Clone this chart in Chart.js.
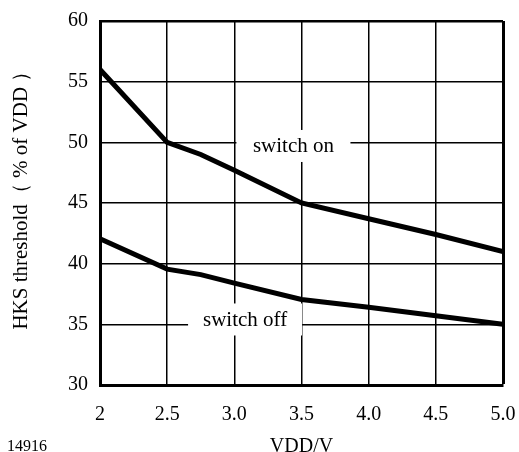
<!DOCTYPE html>
<html>
<head>
<meta charset="utf-8">
<script src="https://cdn.jsdelivr.net/npm/chart.js@4/dist/chart.umd.min.js"></script>
<style>
  html, body { margin: 0; padding: 0; background: #fff; }
  #wrap { position: relative; width: 519px; height: 452px; }
</style>
</head>
<body>
<div id="wrap"><canvas id="hks-chart"></canvas></div>
<script>
const vdd = [2, 2.5, 2.75, 3.0, 3.5, 4.0, 4.5, 5.0];
const switchOn = [56, 50, 49, 47.7, 45, 43.7, 42.4, 41];
const switchOff = [42.05, 39.55, 39.1, 38.4, 37.05, 36.4, 35.7, 35.0];
const xTickLabels = ["2", "2.5", "3.0", "3.5", "4.0", "4.5", "5.0"];
const yTickLabels = ["30", "35", "40", "45", "50", "55", "60"];
const curveLabels = ["switch on", "switch off"];

// where the curve names sit, in data units
const curveLabelAt = [
  { x: 3.44, y: 49.7 },
  { x: 3.08, y: 35.4 },
];

const Config = {
  ink: "#000",
  font: `"Liberation Serif", "Times New Roman", serif`,
  tickSize: 20,
  labelSize: 21,
};

Chart.defaults.color = Config.ink;
Chart.defaults.font.family = Config.font;
Chart.defaults.font.size = Config.tickSize;

const toPoints = (ys) => vdd.map((x, i) => ({ x, y: ys[i] }));

const curveLabelPlugin = {
  id: "curveLabels",
  beforeDatasetsDraw(chart) {
    const { ctx, scales } = chart;
    ctx.save();
    ctx.font = `${Config.labelSize}px ${Config.font}`;
    ctx.textAlign = "center";
    ctx.textBaseline = "middle";
    curveLabels.forEach((text, i) => {
      const cx = scales.x.getPixelForValue(curveLabelAt[i].x);
      const cy = scales.y.getPixelForValue(curveLabelAt[i].y);
      ctx.fillStyle = "#fff";
      ctx.fillRect(cx - 57, cy - 16, 114, 32);
      ctx.fillStyle = Config.ink;
      ctx.fillText(text, cx, cy + 1);
    });
    ctx.restore();
  },
  afterDraw(chart) {
    const { ctx } = chart;
    ctx.save();
    ctx.font = `16px ${Config.font}`;
    ctx.fillStyle = Config.ink;
    ctx.textAlign = "left";
    ctx.textBaseline = "alphabetic";
    ctx.fillText("14916", 7, 451);
    ctx.restore();
  },
};

new Chart(document.getElementById("hks-chart"), {
  type: "line",
  data: {
    datasets: [
      {
        label: curveLabels[0],
        data: toPoints(switchOn),
        borderColor: Config.ink,
        borderWidth: 5,
        pointRadius: 0,
        tension: 0,
      },
      {
        label: curveLabels[1],
        data: toPoints(switchOff),
        borderColor: Config.ink,
        borderWidth: 5,
        pointRadius: 0,
        tension: 0,
      },
    ],
  },
  options: {
    responsive: true,
    maintainAspectRatio: false,
    animation: false,
    devicePixelRatio: 1,
    layout: { padding: { top: 21, right: 16, left: 0, bottom: 0 } },
    plugins: {
      legend: { display: false },
      tooltip: { enabled: false },
    },
    scales: {
      x: {
        type: "linear",
        min: 2,
        max: 5,
        afterFit: (scale) => {
          scale.height = 67;
          scale.paddingLeft = 0;
          scale.paddingRight = 0;
        },
        ticks: {
          stepSize: 0.5,
          padding: 18,
          callback: (v, i) => xTickLabels[i],
        },
        grid: {
          color: Config.ink,
          lineWidth: (c) => (c.tick && c.tick.value === 5 ? 3 : 1.5),
          drawTicks: false,
        },
        border: { color: Config.ink, width: 3 },
        title: {
          display: true,
          text: "VDD/V",
          font: { size: 20, lineHeight: 0.5 },
          padding: 0,
        },
      },
      y: {
        min: 30,
        max: 60,
        afterFit: (scale) => {
          scale.width = 100;
          scale.paddingTop = 0;
          scale.paddingBottom = 0;
        },
        ticks: {
          stepSize: 5,
          padding: 12,
          callback: (v, i) => yTickLabels[i],
        },
        grid: {
          color: Config.ink,
          lineWidth: (c) => (c.tick && c.tick.value === 60 ? 2.5 : 1.5),
          drawTicks: false,
        },
        border: { color: Config.ink, width: 3 },
        title: {
          display: true,
          // leading spaces nudge the rotated title a little upward
          text: "\u00A0\u00A0\u00A0HKS threshold（ % of VDD ）",
          font: { size: 21, lineHeight: 1.2 },
          padding: { top: 9, bottom: 0 },
        },
      },
    },
  },
  plugins: [curveLabelPlugin],
});
</script>
</body>
</html>
